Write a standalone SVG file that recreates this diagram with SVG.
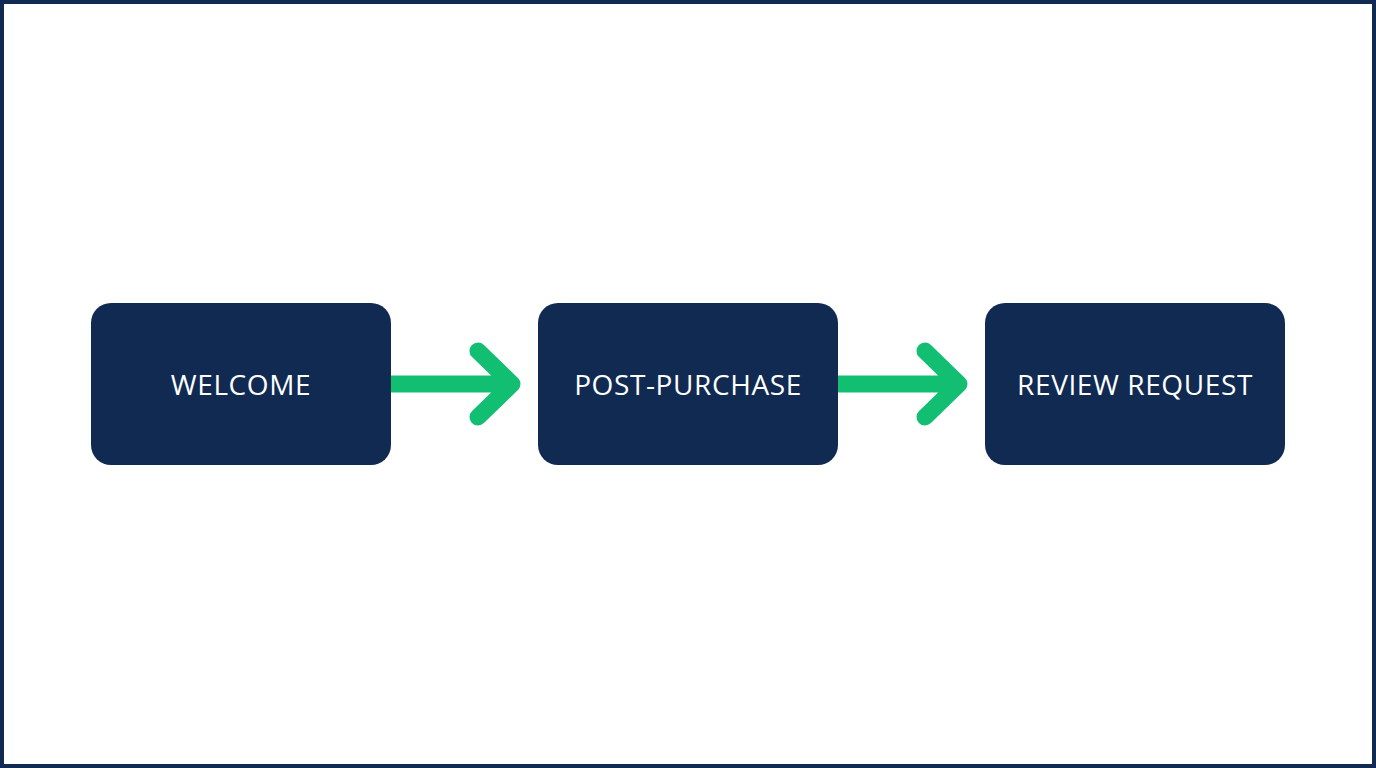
<svg xmlns="http://www.w3.org/2000/svg" width="1376" height="768" viewBox="0 0 1376 768">
<style>
.box{fill:#102a52}
.lbl{fill:#ffffff;font-family:"Open Sans",Inter,sans-serif;font-size:28px;font-weight:400;letter-spacing:0.6px;text-anchor:middle;dominant-baseline:central}
.ar{fill:none;stroke:#12bf72;stroke-width:17;stroke-linecap:round;stroke-linejoin:round}
</style>
<rect x="0" y="0" width="1376" height="768" fill="#ffffff"/>
<rect x="2" y="2" width="1372" height="764" fill="none" stroke="#102a52" stroke-width="4"/>
<g id="connectors">
<path class="ar" d="M392 384H512M478 351L512 384L478 417"/>
<path class="ar" d="M839 384H959M925 351L959 384L925 417"/>
</g>
<g id="welcome"><rect class="box" x="91" y="303" width="300" height="162" rx="20"/><text class="lbl" x="241" y="384">WELCOME</text></g>
<g id="post-purchase"><rect class="box" x="538" y="303" width="300" height="162" rx="20"/><text class="lbl" x="688" y="384">POST-PURCHASE</text></g>
<g id="review-request"><rect class="box" x="985" y="303" width="300" height="162" rx="20"/><text class="lbl" x="1135" y="384">REVIEW REQUEST</text></g>
</svg>
